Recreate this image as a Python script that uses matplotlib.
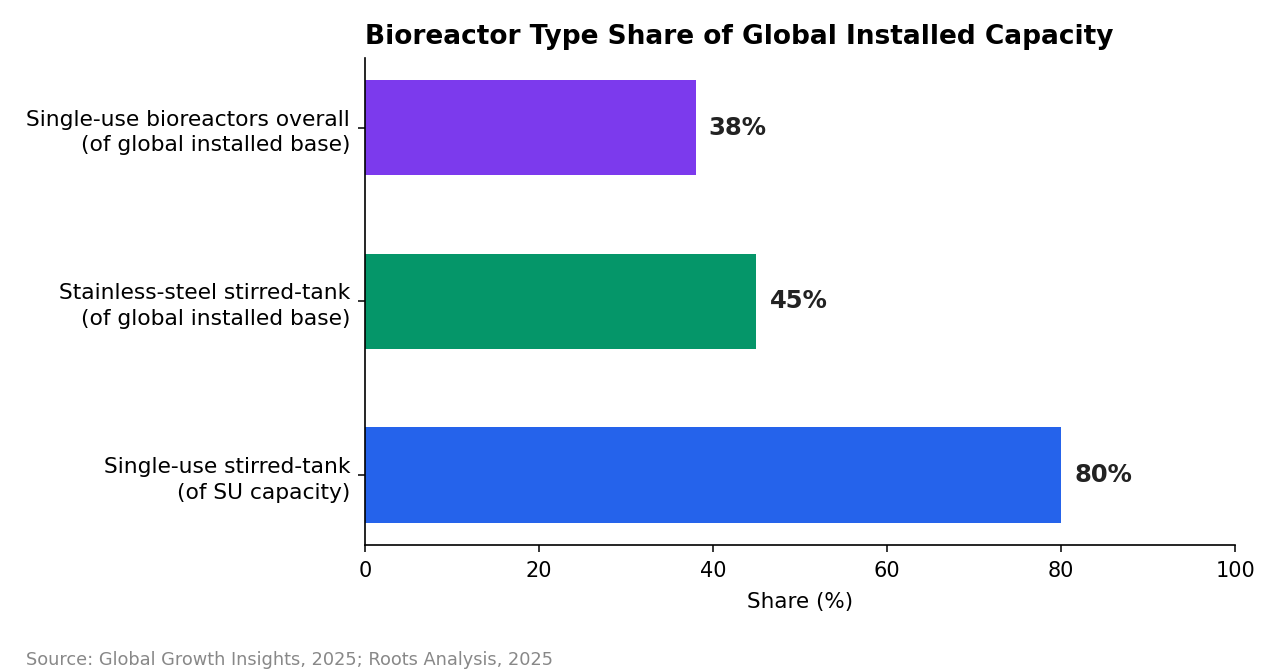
import matplotlib
matplotlib.use("Agg")
from matplotlib import pyplot as plt

plt.rcParams["font.family"] = ["DejaVu Sans"]

categories = [
    "Single-use stirred-tank\n(of SU capacity)",
    "Stainless-steel stirred-tank\n(of global installed base)",
    "Single-use bioreactors overall\n(of global installed base)",
]
shares = [80, 45, 38]
colors = ["#2563eb", "#059669", "#7c3aed"]

fig = plt.figure(figsize=(12.8, 6.72), dpi=100)
ax = fig.add_axes([0.285, 0.189, 0.68, 0.725])

bars = ax.barh(categories, shares, height=0.55, color=colors)
for b, v in zip(bars, shares):
    ax.text(b.get_width() + 1.5, b.get_y() + b.get_height() / 2, f"{v}%",
            va="center", ha="left", fontsize=17.5, fontweight="bold", color="#222222")

ax.set_xlim(0, 100)
ax.set_xlabel("Share (%)", fontsize=15.5, labelpad=8)
ax.tick_params(axis="y", labelsize=15.7, length=5, width=1.1, pad=5.5)
ax.tick_params(axis="x", labelsize=15, length=5, width=1.1, pad=6.5)
for lab in ax.get_yticklabels():
    lab.set_linespacing(1.35)
for s in ["left", "bottom"]:
    ax.spines[s].set_linewidth(1.2)
ax.spines["top"].set_visible(False)
ax.spines["right"].set_visible(False)
ax.set_title("Bioreactor Type Share of Global Installed Capacity", loc="left",
             fontsize=19, fontweight="bold", pad=10)

fig.text(0.02, 0.005, "Source: Global Growth Insights, 2025; Roots Analysis, 2025",
         fontsize=12.8, color="#888888", ha="left", va="bottom")

fig.savefig("out.png", dpi=100)
